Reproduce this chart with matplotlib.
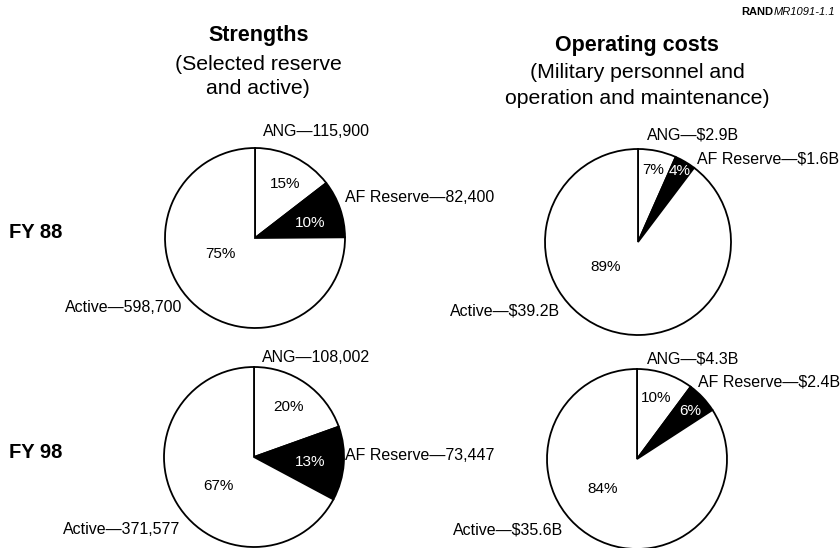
import matplotlib

matplotlib.use("Agg")

import matplotlib.pyplot as plt

W, H = 840, 548

# data: ANG, AF Reserve, Active
strength_88 = [115900, 82400, 598700]
strength_98 = [108002, 73447, 371577]
cost_88 = [2.9, 1.6, 39.2]
cost_98 = [4.3, 2.4, 35.6]

strength_88_pct = ["15%", "10%", "75%"]
strength_98_pct = ["20%", "13%", "67%"]
cost_88_pct = ["7%", "4%", "89%"]
cost_98_pct = ["10%", "6%", "84%"]

strength_88_lbl = ["ANG\u2014115,900", "AF Reserve\u201482,400", "Active\u2014598,700"]
strength_98_lbl = ["ANG\u2014108,002", "AF Reserve\u201473,447", "Active\u2014371,577"]
cost_88_lbl = ["ANG\u2014$2.9B", "AF Reserve\u2014$1.6B", "Active\u2014$39.2B"]
cost_98_lbl = ["ANG\u2014$4.3B", "AF Reserve\u2014$2.4B", "Active\u2014$35.6B"]

row_labels = ["FY 88", "FY 98"]

plt.rcParams["font.family"] = ["Liberation Sans", "DejaVu Sans"]

fig = plt.figure(figsize=(W / 100, H / 100), dpi=100)
ax = fig.add_axes([0, 0, 1, 1])


def py(y):
    # pixel row (from top) -> data y
    return H - y


def draw_pie(values, pcts, labels, center, radius, pct_pos, lbl_pos):
    cx, cy = center
    ax.pie(values, startangle=90, counterclock=False, center=(cx, py(cy)),
           radius=radius, colors=["white", "black", "white"],
           wedgeprops=dict(edgecolor="black", linewidth=1.3))
    for i, (txt, (dx, dy)) in enumerate(zip(pcts, pct_pos)):
        ax.text(cx + dx, py(cy + dy), txt, ha="center", va="center", fontsize=11,
                color="white" if i == 1 else "black")
    for i, (txt, (dx, dy)) in enumerate(zip(labels, lbl_pos)):
        ax.text(cx + dx, py(cy + dy), txt, ha="right" if i == 2 else "left",
                va="center", fontsize=11.5)


draw_pie(strength_88, strength_88_pct, strength_88_lbl, (255, 238), 90,
         [(30, -54), (55, -15), (-35, 16)],
         [(8, -106), (90, -41), (-73, 69)])
draw_pie(cost_88, cost_88_pct, cost_88_lbl, (638, 242), 93,
         [(15, -72), (42, -71), (-32, 25)],
         [(9, -107), (59, -83), (-78, 69)])
draw_pie(strength_98, strength_98_pct, strength_98_lbl, (254, 457), 90,
         [(34, -50), (56, 5), (-36, 29)],
         [(8, -100), (91, -1), (-74, 72)])
draw_pie(cost_98, cost_98_pct, cost_98_lbl, (637, 459), 90,
         [(19, -61), (53, -48), (-34, 30)],
         [(10, -100), (61, -77), (-74, 71)])

# column headers
ax.text(259, py(35), "Strengths", ha="center", va="center", fontsize=15.5,
        fontweight="bold")
ax.text(258, py(65), "(Selected reserve", ha="center", va="center", fontsize=15.3)
ax.text(258, py(89), "and active)", ha="center", va="center", fontsize=15.3)
ax.text(637, py(45), "Operating costs", ha="center", va="center", fontsize=15.5,
        fontweight="bold")
ax.text(637, py(73), "(Military personnel and", ha="center", va="center",
        fontsize=15.3)
ax.text(637, py(98), "operation and maintenance)", ha="center", va="center",
        fontsize=15.3)

# row labels
for lbl, y in zip(row_labels, [233, 452]):
    ax.text(9, py(y), lbl, ha="left", va="center", fontsize=14.5, fontweight="bold")

ax.set_xlim(0, W)
ax.set_ylim(0, H)
ax.set_aspect("auto")
ax.axis("off")

# source tag, right-aligned to the figure edge
tag = ax.text(835, py(12), "MR1091-1.1", ha="right", va="center", fontsize=8,
              fontstyle="italic")
bb = tag.get_window_extent(renderer=fig.canvas.get_renderer())
ax.text(bb.x0, py(12), "RAND", ha="right", va="center", fontsize=8,
        fontweight="bold")

fig.savefig("out.png", dpi=100, facecolor="white")
